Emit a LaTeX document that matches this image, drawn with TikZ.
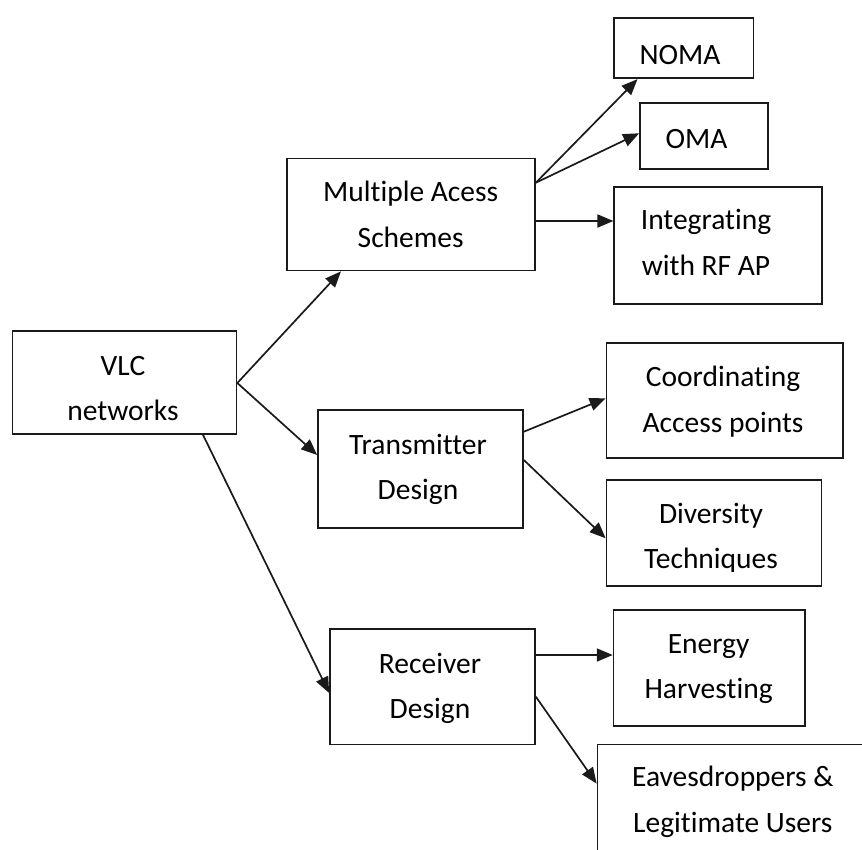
\documentclass[tikz,border=0pt]{standalone}
\usepackage{fontspec}
\setmainfont{Carlito}[Ligatures=NoCommon]
\usetikzlibrary{arrows.meta,calc}
\definecolor{ink}{HTML}{1A1A1A}
\tikzset{
  box/.style={draw=ink, line width=1.7pt, rectangle, inner sep=0pt, fill=white},
  lbl/.style={anchor=base, inner sep=0pt, text=black, font=\fontsize{29.5}{45.5}\selectfont},
  arr/.style={draw=ink, line width=1.7pt, -{Triangle[length=16pt,width=13pt]}}
}
\newcommand{\twolines}[2]{\begin{tabular}[t]{@{}c@{}}#1\\#2\end{tabular}}
\begin{document}
\begin{tikzpicture}[x=1pt,y=-1pt]
\useasboundingbox (0,0) rectangle (862,850);
\clip (0,0) rectangle (862,850);
\fill[white] (0,0) rectangle (862,850);
% boxes
\node[box, minimum width=224pt, minimum height=103pt] (vlc) at (124.5,382.5) {};
\node[box, minimum width=248pt, minimum height=112pt] (mas) at (411,214.5) {};
\node[box, minimum width=205pt, minimum height=118pt] (trans) at (420.5,469) {};
\node[box, minimum width=205pt, minimum height=115.5pt] (recv) at (432.5,686.75) {};
\node[box, minimum width=139.5pt, minimum height=60pt] (noma) at (683.75,48.3) {};
\node[box, minimum width=128.3pt, minimum height=66.6pt] (oma) at (704.15,136) {};
\node[box, minimum width=207.4pt, minimum height=117.3pt] (integ) at (718,245.35) {};
\node[box, minimum width=236.5pt, minimum height=115.6pt] (coord) at (724.75,400.5) {};
\node[box, minimum width=215pt, minimum height=106pt] (div) at (714,533) {};
\node[box, minimum width=191.1pt, minimum height=115.7pt] (energy) at (709.15,667.85) {};
\node[box, minimum width=300pt, minimum height=150pt] (eaves) at (747.5,819.5) {};
% texts
\node[lbl] (vlcT) at (123,375) {\twolines{VLC}{networks}};
\node[lbl] (masT) at (410.7,201.7) {\twolines{Multiple Acess}{Schemes}};
\node[lbl] (transT) at (418,454) {\twolines{Transmitter}{Design}};
\node[lbl] (recvT) at (430,673.3) {\twolines{Receiver}{Design}};
\node[lbl] (nomaT) at (680,64.3) {NOMA};
\node[lbl] (omaT) at (696.5,148.3) {OMA};
\node[lbl] (integT) at (706,230) {\twolines{Integrating}{with RF AP}};
\node[lbl] (coordT) at (723,386.7) {\twolines{Coordinating}{Access points}};
\begin{scope}
\clip (div.north west) rectangle ([yshift=15pt]div.south east);
\node[lbl] (divT) at (711,523.3) {\twolines{Diversity}{Techniques}};
\end{scope}
\node[lbl] (energyT) at (708.6,653.3) {\twolines{Energy}{Harvesting}};
\node[lbl] (eavesT) at (732.8,786.7) {\twolines{Eavesdroppers \&}{Legitimate Users}};
% connectors
\draw[arr] ([yshift=-0.5pt]vlc.east) -- ([xshift=-70pt]mas.south);
\draw[arr] ([yshift=-0.5pt]vlc.east) -- ([yshift=14pt]trans.west);
\draw[arr] ([xshift=78.5pt]vlc.south) -- ([yshift=-6.25pt]recv.west);
\draw[arr] ([yshift=31.8pt]mas.east) -- ([xshift=-46.25pt]noma.south);
\draw[arr] ([yshift=31.8pt]mas.east) -- ([yshift=2.7pt]oma.west);
\draw[arr] ([yshift=-6.5pt]mas.east) coordinate (m3) -- (m3 -| integ.west);
\draw[arr] ([yshift=37.3pt]trans.east) -- ([yshift=2.2pt]coord.west);
\draw[arr] ([yshift=9pt]trans.east) -- ([yshift=-5.3pt]div.west);
\draw[arr] ([yshift=31.75pt]recv.east) coordinate (r1) -- (r1 -| energy.west);
\draw[arr] ([yshift=-9.95pt]recv.east) -- ([yshift=-40pt]eaves.north west);
\end{tikzpicture}
\end{document}
